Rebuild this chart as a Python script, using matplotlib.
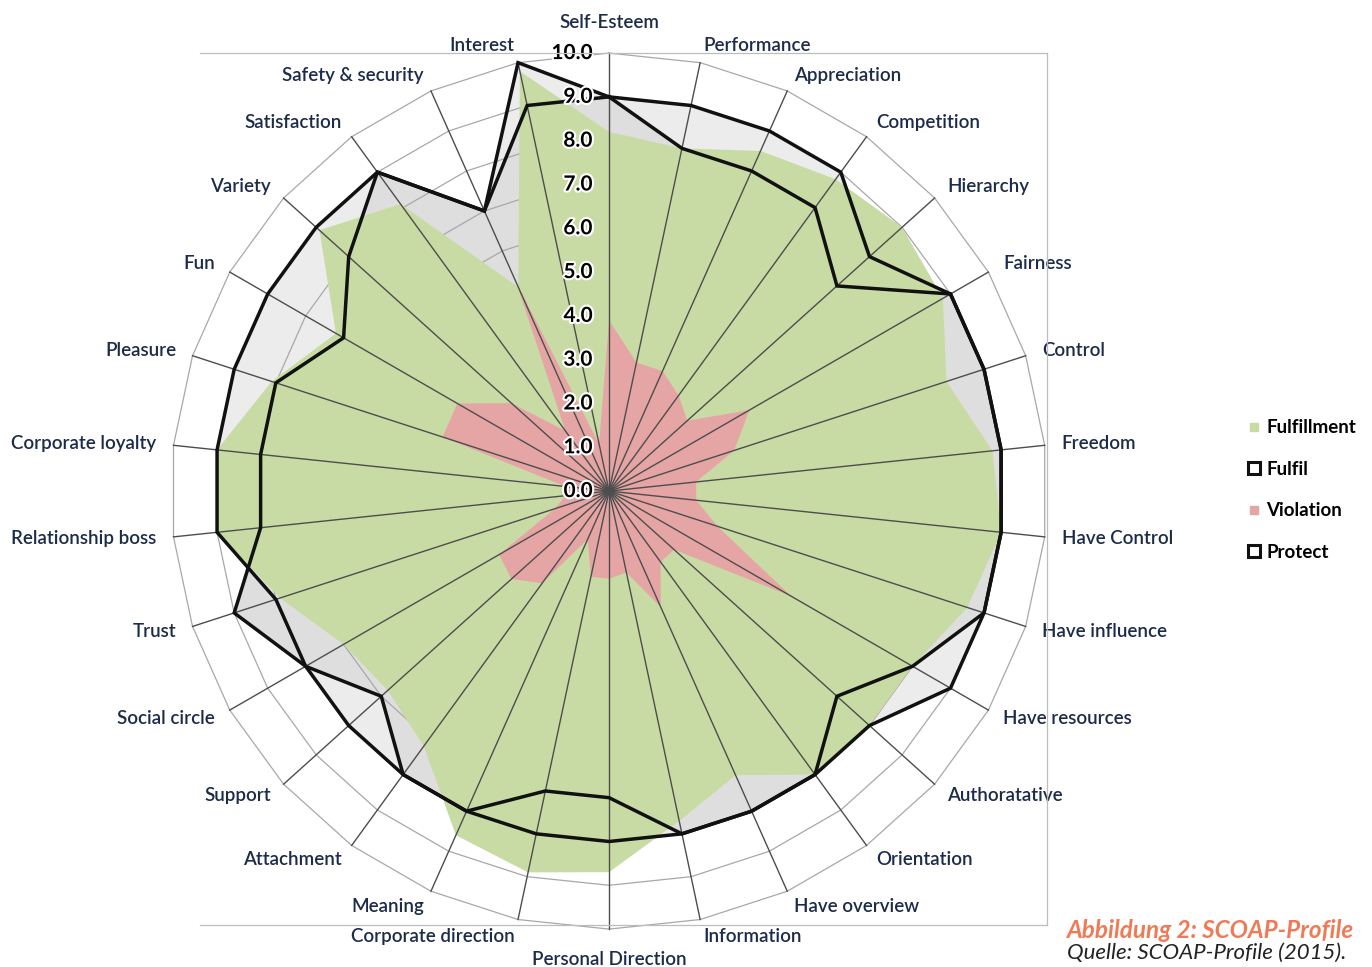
import numpy as np
import matplotlib
matplotlib.use('Agg')
import matplotlib.pyplot as plt
import matplotlib.patheffects as pe
from matplotlib.lines import Line2D

plt.rcParams['font.family'] = ['Lato', 'DejaVu Sans']

categories = ['Self-Esteem', 'Performance', 'Appreciation', 'Competition', 'Hierarchy',
              'Fairness', 'Control', 'Freedom', 'Have Control', 'Have influence',
              'Have resources', 'Authoratative', 'Orientation', 'Have overview', 'Information',
              'Personal Direction', 'Corporate direction', 'Meaning', 'Attachment', 'Support',
              'Social circle', 'Trust', 'Relationship boss', 'Corporate loyalty', 'Pleasure',
              'Fun', 'Variety', 'Satisfaction', 'Safety & security', 'Interest']

fulfillment = [8.2, 8.0, 8.5, 8.8, 9.0, 8.8, 8.1, 8.8, 9.0, 8.6,
               8.0, 8.0, 8.0, 7.1, 7.7, 8.7, 8.9, 8.6, 7.2, 6.8,
               7.0, 7.9, 9.0, 9.0, 8.1, 7.2, 8.9, 8.1, 5.1, 9.8]
fulfil = [9, 9, 9, 9, 8, 9, 9, 9, 9, 9,
          9, 8, 8, 8, 8, 8, 8, 8, 8, 8,
          8, 8, 9, 9, 9, 9, 9, 9, 7, 10]
violation = [3.9, 3.0, 3.0, 2.7, 2.4, 3.7, 3.0, 2.0, 2.0, 2.6,
             4.8, 2.0, 2.0, 2.9, 1.9, 2.0, 2.0, 1.2, 2.6, 3.0,
             2.9, 1.3, 1.0, 1.0, 4.0, 4.0, 3.0, 1.7, 5.2, 1.1]
protect = [9, 8, 8, 8, 7, 9, 9, 9, 9, 9,
           8, 7, 8, 8, 8, 7, 7, 8, 8, 7,
           8, 9, 8, 8, 8, 7, 8, 9, 7, 9]

ticks = [0, 1, 2, 3, 4, 5, 6, 7, 8, 9, 10]

n = len(categories)
theta = np.linspace(0, 2 * np.pi, n, endpoint=False)
th_c = np.append(theta, theta[0])


def closed(vals):
    return np.append(vals, vals[0])


fig = plt.figure(figsize=(13.72, 9.67), dpi=100)
ax = fig.add_axes([0.1247, 0.0392, 0.6385, 0.9059], projection='polar')
ax.set_theta_offset(np.pi / 2)
ax.set_theta_direction(-1)
ax.set_ylim(0, 10)
ax.grid(False)
ax.set_xticks([])
ax.set_yticks([])
ax.spines['polar'].set_visible(False)
ax.patch.set_visible(False)

# shadow-ish grey under the line series
ax.fill(th_c, closed(fulfil), color='#ececec', zorder=1, lw=0)
ax.fill(th_c, closed(protect), color='#dedede', zorder=1, lw=0)

# polygon grid rings
for t in ticks[1:]:
    ax.plot(th_c, [t] * (n + 1), color='#a8a8a8', lw=0.9, zorder=2, clip_on=False)

ax.fill(th_c, closed(fulfillment), color='#c9dba4', zorder=3, lw=0)
ax.fill(th_c, closed(violation), color='#e5a5a5', zorder=4, lw=0)

# spokes
for th in theta:
    ax.plot([th, th], [0, 10], color='#4d4d4d', lw=1.0, zorder=5, clip_on=False)

ax.plot(th_c, closed(fulfil), color='#111111', lw=2.5, zorder=6, clip_on=False,
        solid_joinstyle='miter')
ax.plot(th_c, closed(protect), color='#111111', lw=2.5, zorder=6, clip_on=False,
        solid_joinstyle='miter')

# radial tick labels
for t in ticks:
    ax.annotate(f'{t:.1f}', xy=(0, t), xytext=(-12, 0), textcoords='offset points',
                ha='right', va='center', fontsize=15, fontweight='bold', color='black',
                zorder=7, path_effects=[pe.withStroke(linewidth=3, foreground='white')])

# category labels
lab_kw = dict(va='center', fontsize=13.5, fontweight='semibold', color='#1c2b4a')
for th, lab in zip(theta, categories):
    deg = np.degrees(th)
    if np.isclose(deg, 0) or np.isclose(deg, 180):
        ax.text(th, 10.7, lab, ha='center', **lab_kw)
    elif deg < 180:
        ax.text(th, 10.39, lab, ha='left', **lab_kw)
    else:
        ax.text(th, 10.39, lab, ha='right', **lab_kw)

# plot area border
W, H = 1372, 967
for xs, ys in [([200, 1047], [53, 53]), ([200, 1047], [925, 925]), ([1047, 1047], [53, 925])]:
    fig.add_artist(Line2D([x / W for x in xs], [1 - y / H for y in ys],
                          color='#bdbdbd', lw=0.9))

handles = [
    Line2D([], [], ls='none', marker='s', ms=6, mfc='#c9dba4', mec='#c9dba4'),
    Line2D([], [], ls='none', marker='s', ms=9, mfc='white', mec='#111111', mew=2.2),
    Line2D([], [], ls='none', marker='s', ms=6, mfc='#e5a5a5', mec='#e5a5a5'),
    Line2D([], [], ls='none', marker='s', ms=9, mfc='white', mec='#111111', mew=2.2),
]
fig.legend(handles, ['Fulfillment', 'Fulfil', 'Violation', 'Protect'],
           loc='center left', bbox_to_anchor=(1230 / W, 1 - 490 / H),
           frameon=False, handlelength=0.8, handletextpad=0.25, labelspacing=1.3,
           prop={'size': 13.5, 'weight': 'bold'})

fig.text(1354 / W, 1 - 930 / H, 'Abbildung 2: SCOAP-Profile', ha='right', va='center',
         fontsize=17.5, fontweight='bold', style='italic', color='#f07a55')
fig.text(1067 / W, 1 - 953 / H, 'Quelle: SCOAP-Profile (2015).', ha='left', va='center',
         fontsize=16, style='italic', color='#222222')

fig.savefig('out.png', dpi=100, facecolor='white')
